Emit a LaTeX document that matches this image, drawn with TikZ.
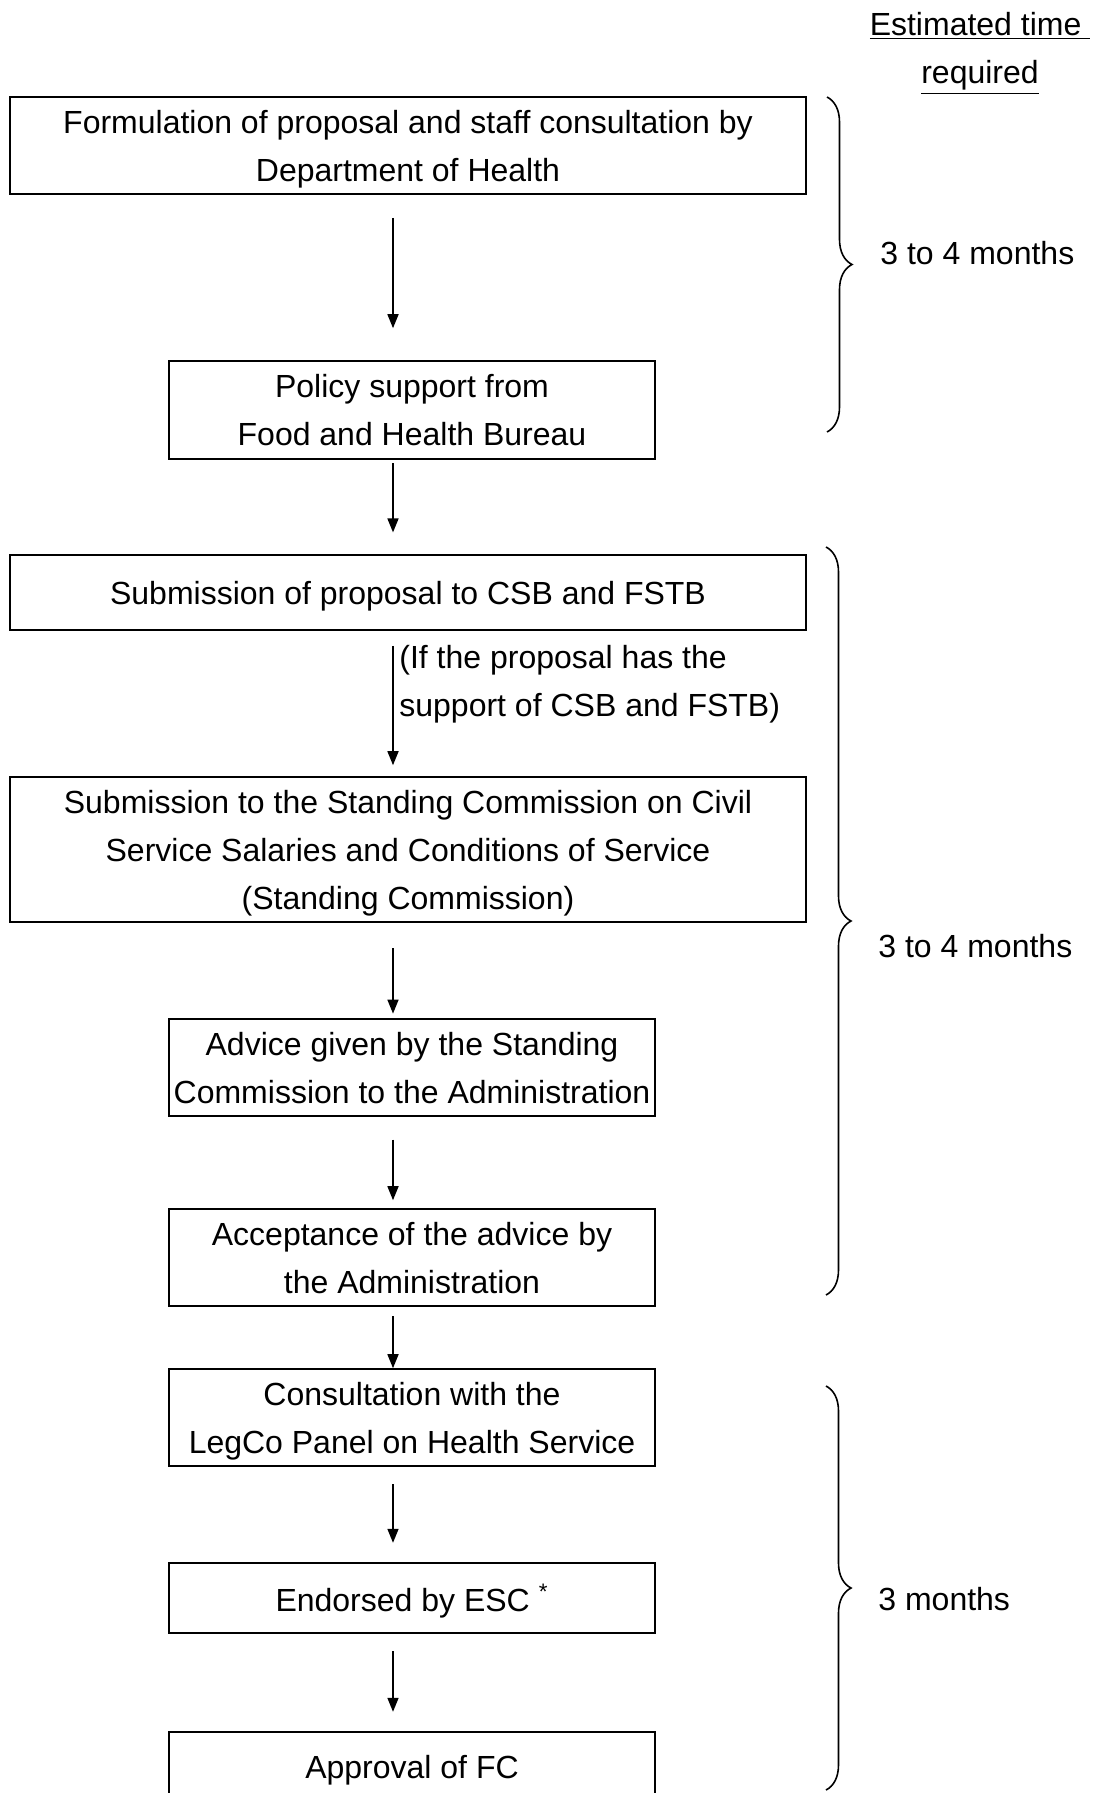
\documentclass[tikz,border=0pt]{standalone}
\usepackage{fontspec}
\setmainfont{Liberation Sans}
\usetikzlibrary{arrows.meta,decorations.pathreplacing}

\tikzset{
  txt/.style={font=\fontsize{16}{24}\selectfont},
  box/.style={txt, draw, line width=0.8pt, inner sep=0pt, align=center, text depth=0pt},
  widebox/.style={box, minimum width=398pt},
  smallbox/.style={box, minimum width=243pt},
  flow/.style={-{Triangle[length=7pt,width=5.5pt]}, line width=0.8pt},
  period/.style={decorate, decoration={brace, amplitude=12.5pt}, line width=0.8pt},
  note/.style={txt, inner sep=0pt, align=left}
}

\begin{document}
\begin{tikzpicture}[x=0.5pt, y=-0.5pt]
    \clip (0,0) rectangle (1098,1793);
    \coordinate (spine) at (393,0); % column of the arrows

    % Header
    \node[txt, align=center, inner sep=0pt] (head) at (980,53.5)
        {\underline{Estimated time\ }\\\underline{required}};

    % The steps
    \node[widebox, minimum height=48.5pt] (form) at (408,145.5)
        {Formulation of proposal and staff consultation by\\Department of Health};
    \node[smallbox, minimum height=49pt] (policy) at (412,410)
        {Policy support from\\Food and Health Bureau};
    \node[widebox, minimum height=37.5pt] (csb) at (408,592.5)
        {Submission of proposal to CSB and FSTB};
    \node[widebox, minimum height=72.5pt] (sc) at (408,849.5)
        {Submission to the Standing Commission on Civil\\Service Salaries and Conditions of Service\\(Standing Commission)};
    \node[smallbox, minimum height=48.5pt] (advice) at (412,1067.5)
        {Advice given by the Standing\\Commission to the Administration};
    \node[smallbox, minimum height=48.5pt] (accept) at (412,1257.5)
        {Acceptance of the advice by\\the Administration};
    \node[smallbox, minimum height=48.5pt] (panel) at (412,1417.5)
        {Consultation with the\\LegCo Panel on Health Service};
    \node[smallbox, minimum height=35pt] (esc) at (412,1598)
        {Endorsed by ESC \textsuperscript{*}};
    \node[smallbox, minimum height=35pt] (fc) at (412,1767)
        {Approval of FC};

    % Condition beside the arrow
    \node[note, anchor=west] (cond) at (399,684)
        {(If the proposal has the\\support of CSB and FSTB)};

    % Arrows between the steps
    \foreach \s/\t/\ga/\gb in {form/policy/11.5/16, policy/csb/1.7/10.9,
        csb/sc/7.5/5.5, sc/advice/12.6/2.3, advice/accept/11.4/4,
        accept/panel/4.6/0, panel/esc/8.6/9.7, esc/fc/8.6/9.7}
        \draw[flow, shorten <=\ga pt, shorten >=\gb pt] (\s.south -| spine) -- (\t.north -| spine);

    % Braces with the time needed
    \draw[period] (827,97) -- (827,432);
    \node[note, anchor=west] (t1) at (880,253) {3 to 4 months};
    \draw[period] (826,547) -- (826,1295);
    \node[note, anchor=west] (t2) at (878,946) {3 to 4 months};
    \draw[period] (826,1386) -- (826,1790);
    \node[note, anchor=west] (t3) at (878,1599) {3 months};
\end{tikzpicture}
\end{document}
